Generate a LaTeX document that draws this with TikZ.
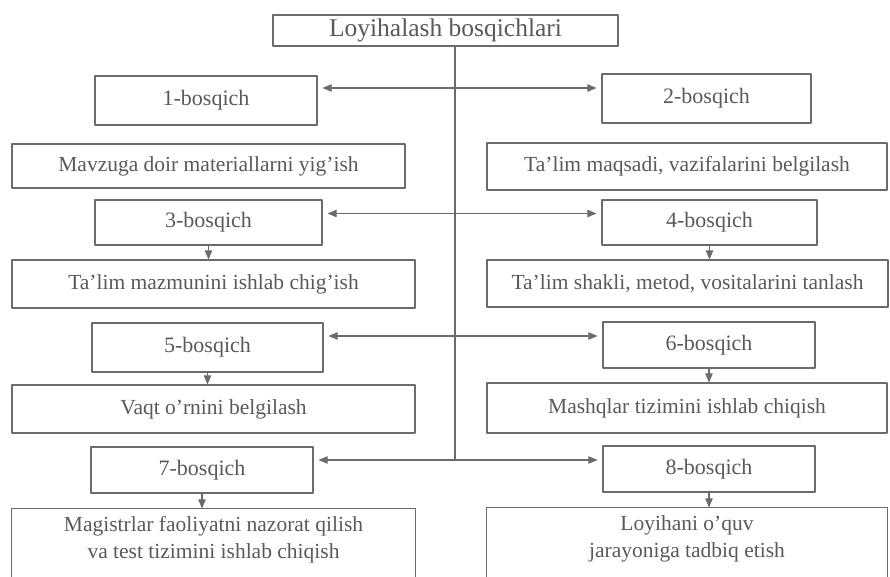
\documentclass[tikz,border=0pt]{standalone}
\usepackage{fontspec}
\setmainfont{Liberation Serif}
\usetikzlibrary{arrows}
\definecolor{wwwwww}{rgb}{0.42,0.42,0.42}
\definecolor{zzzzzz}{rgb}{0.35,0.35,0.35}

\begin{document}
\begin{tikzpicture}[line cap=round,line join=round,>=triangle 45,x=1.0pt,y=-1.0pt,
  bos/.style={draw=wwwwww,line width=1.1pt,text=zzzzzz,inner sep=0pt,font=\fontsize{22}{26}\selectfont},
  ish/.style={bos,align=center,font=\fontsize{21.5}{27}\selectfont},
  yol/.style={color=wwwwww,line width=1.1pt}]
\clip(0,0) rectangle (890,577);
\node[bos,minimum width=345pt,minimum height=31pt,font=\fontsize{25.5}{28}\selectfont] (top) at (445.5,30.5) {Loyihalash bosqichlari};
\node[bos,minimum width=222pt,minimum height=49pt] (s1) at (206,100.5) {1-bosqich};
\node[bos,minimum width=209pt,minimum height=49pt] (s2) at (706.5,98.5) {2-bosqich};
\node[ish,minimum width=393pt,minimum height=44pt] (d1) at (208.5,166) {Mavzuga doir materiallarni yig'ish};
\node[ish,minimum width=400pt,minimum height=47pt] (d2) at (687,166.5) {Ta'lim maqsadi, vazifalarini belgilash};
\node[bos,minimum width=227pt,minimum height=45pt] (s3) at (208.5,222.5) {3-bosqich};
\node[bos,minimum width=215pt,minimum height=45pt] (s4) at (709.5,222.5) {4-bosqich};
\node[ish,minimum width=403pt,minimum height=48pt] (d3) at (213.5,284) {Ta'lim mazmunini ishlab chig'ish};
\node[ish,minimum width=401pt,minimum height=47pt] (d4) at (687.5,283.5) {Ta'lim shakli, metod, vositalarini tanlash};
\node[bos,minimum width=231pt,minimum height=49pt] (s5) at (207.5,347.5) {5-bosqich};
\node[bos,minimum width=212pt,minimum height=46pt] (s6) at (709,345) {6-bosqich};
\node[ish,minimum width=403pt,minimum height=48pt] (d5) at (213.5,409) {Vaqt o'rnini belgilash};
\node[ish,minimum width=400pt,minimum height=50pt] (d6) at (687,408) {Mashqlar tizimini ishlab chiqish};
\node[bos,minimum width=222pt,minimum height=46pt] (s7) at (202,470) {7-bosqich};
\node[bos,minimum width=212pt,minimum height=46pt] (s8) at (709,469) {8-bosqich};
% oxirgi qator: quti pastda kesilgan
\node[ish,draw=none,minimum width=403pt,minimum height=61pt] (d7) at (213.5,539.5) {Magistrlar faoliyatni nazorat qilish\\va test tizimini ishlab chiqish};
\node[ish,draw=none,minimum width=400pt,minimum height=61pt] (d8) at (687,538.5) {Loyihani o'quv\\jarayoniga tadbiq etish};
\draw [yol] ([yshift=-30pt]d7.south west) -- (d7.north west) -- (d7.north east) -- ([yshift=-30pt]d7.south east);
\draw [yol] ([yshift=-30pt]d8.south west) -- (d8.north west) -- (d8.north east) -- ([yshift=-30pt]d8.south east);
\coordinate (j1) at (455,88);
\coordinate (j3) at (455,213.5);
\coordinate (j5) at (455,336);
\coordinate (j7) at (455,460);
\draw [yol] (top.south -| j1) -- (j7);
\draw [yol,<->,shorten <=5pt,shorten >=5pt] (s1.east |- j1) -- (s2.west |- j1);
\draw [yol,<->,shorten <=5pt,shorten >=5pt] (s3.east |- j3) -- (s4.west |- j3);
\draw [yol,<->,shorten <=5pt,shorten >=5pt] (s5.east |- j5) -- (s6.west |- j5);
\draw [yol,<->,shorten <=5pt,shorten >=5pt] (s7.east |- j7) -- (s8.west |- j7);
\draw [yol,->] (s3.south) -- (s3.south |- d3.north);
\draw [yol,->] (s4.south) -- (s4.south |- d4.north);
\draw [yol,->] (s5.south) -- (s5.south |- d5.north);
\draw [yol,->] (s6.south) -- (s6.south |- d6.north);
\draw [yol,->] (s7.south) -- (s7.south |- d7.north);
\draw [yol,->] (s8.south) -- (s8.south |- d8.north);
\end{tikzpicture}
\end{document}
